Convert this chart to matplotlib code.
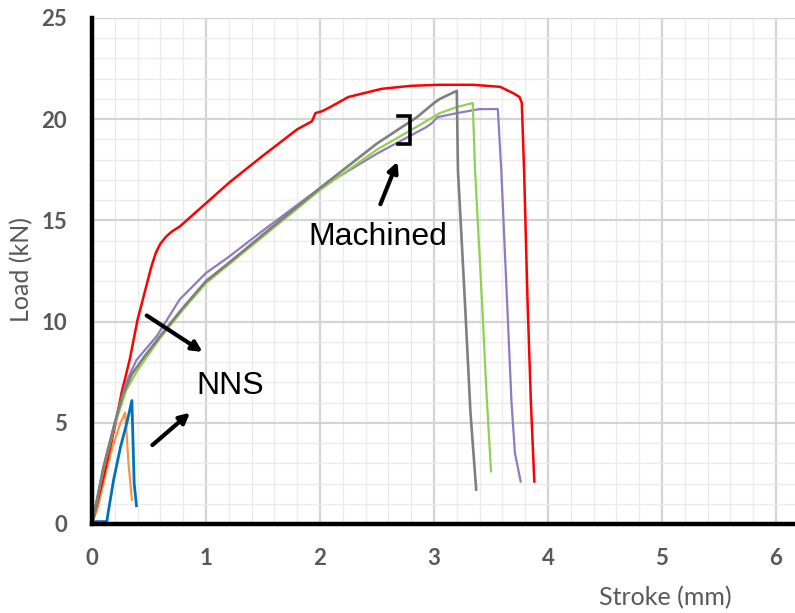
import matplotlib
matplotlib.use("Agg")
import matplotlib.pyplot as plt
from matplotlib.ticker import MultipleLocator

# ---- data (Stroke mm, Load kN) ----
red_x = [0, 0.1, 0.2, 0.26, 0.33, 0.40, 0.46, 0.52, 0.56, 0.60, 0.65, 0.7, 0.77, 1.01, 1.21, 1.50, 1.80,
         1.93, 1.96, 2.02, 2.09, 2.25, 2.54, 2.8, 3.05, 3.34, 3.58, 3.69, 3.75, 3.77, 3.79, 3.82, 3.85, 3.88]
red_y = [0, 2.3, 4.8, 6.5, 8.1, 10.1, 11.4, 12.7, 13.4, 13.85, 14.2, 14.45, 14.7, 15.9, 16.9, 18.2, 19.5,
         19.9, 20.3, 20.4, 20.6, 21.1, 21.5, 21.65, 21.7, 21.7, 21.6, 21.3, 21.1, 20.8, 17.5, 11.1, 6.0, 2.1]

gray_x = [0, 0.02, 0.1, 0.2, 0.27, 0.35, 0.45, 0.6, 0.8, 1.0, 1.2, 1.5, 2.0, 2.5, 2.85, 3.0, 3.05, 3.2,
          3.21, 3.27, 3.32, 3.37]
gray_y = [0, 0.5, 2.8, 5.0, 6.4, 7.4, 8.2, 9.3, 10.7, 12.0, 12.9, 14.3, 16.6, 18.8, 20.1, 20.8, 21.0, 21.4,
          17.5, 11.1, 5.5, 1.7]

green_x = [0, 0.1, 0.2, 0.3, 0.4, 0.6, 0.8, 1.0, 1.5, 2.0, 2.5, 2.84, 3.05, 3.2, 3.34, 3.36, 3.42, 3.46,
           3.50]
green_y = [0, 2.7, 4.9, 6.6, 7.6, 9.2, 10.6, 11.9, 14.2, 16.5, 18.5, 19.6, 20.3, 20.6, 20.8, 17.5, 11.1,
           6.5, 2.6]

purple_x = [0, 0.1, 0.2, 0.3, 0.39, 0.57, 0.77, 1.0, 1.2, 1.5, 2.0, 2.5, 2.93, 2.98, 3.03, 3.2, 3.40,
            3.56, 3.59, 3.64, 3.68, 3.71, 3.76]
purple_y = [0, 2.8, 5.0, 7.0, 8.1, 9.3, 11.1, 12.4, 13.2, 14.5, 16.6, 18.3, 19.6, 19.8, 20.1, 20.3, 20.5,
            20.5, 17.5, 11.1, 6.0, 3.5, 2.1]

blue_x = [0, 0.03, 0.13, 0.14, 0.19, 0.25, 0.31, 0.35, 0.36, 0.37, 0.39]
blue_y = [0, 0.12, 0.12, 0.5, 2.2, 3.8, 5.1, 6.1, 4.0, 2.0, 0.9]

orange_x = [0, 0.05, 0.1, 0.18, 0.25, 0.29, 0.30, 0.32, 0.35]
orange_y = [0, 0.8, 2.0, 3.8, 5.0, 5.5, 4.8, 3.0, 1.2]

bracket_x = [2.68, 2.79, 2.79, 2.68]
bracket_y = [20.15, 20.15, 18.75, 18.75]

x_ticks = [0, 1, 2, 3, 4, 5, 6]
y_ticks = [0, 5, 10, 15, 20, 25]

# ---- figure ----
fig = plt.figure(figsize=(7.95, 6.13), dpi=100)
ax = fig.add_axes([92/795, 1-524/613, 1-92/795, (524-18)/613])

tick_color = '#595959'
ax.set_xlim(0, 703/114)
ax.set_ylim(0, 25)
ax.set_xticks(x_ticks)
ax.set_yticks(y_ticks)
ax.xaxis.set_minor_locator(MultipleLocator(0.2))
ax.yaxis.set_minor_locator(MultipleLocator(1))
ax.grid(which='major', color='#d4d4d4', lw=1.6, zorder=0)
ax.grid(which='minor', color='#ececec', lw=1.0, zorder=0)
ax.set_axisbelow(True)
ax.tick_params(which='both', length=0)
ax.tick_params(axis='x', pad=17)
ax.tick_params(axis='y', pad=18)
for lab in ax.get_xticklabels() + ax.get_yticklabels():
    lab.set_fontfamily('Lato')
    lab.set_fontweight('bold')
    lab.set_fontsize(16)
    lab.set_color(tick_color)

for s in ['top', 'right']:
    ax.spines[s].set_visible(False)
for s in ['left', 'bottom']:
    ax.spines[s].set_linewidth(3.2)
    ax.spines[s].set_color('black')
    ax.spines[s].set_zorder(5)

lw = 1.6
ax.plot(orange_x, orange_y, color='#f79646', lw=lw, zorder=2)
ax.plot(blue_x, blue_y, color='#0070c0', lw=lw+0.4, zorder=2)
ax.plot(red_x, red_y, color='#ff0000', lw=lw+0.2, zorder=2)
ax.plot(purple_x, purple_y, color='#8f7bbd', lw=lw, zorder=3)
ax.plot(green_x, green_y, color='#92d050', lw=lw, zorder=3)
ax.plot(gray_x, gray_y, color='#7f7f7f', lw=lw+0.3, zorder=3)

ax.plot(bracket_x, bracket_y, color='black', lw=2.6, zorder=6, solid_joinstyle='miter')

arrow = dict(arrowstyle='-|>,head_length=0.6,head_width=0.3', color='black', lw=3, shrinkA=0, shrinkB=0)
ax.annotate('', xy=(2.68, 17.9), xytext=(2.53, 15.8), arrowprops=arrow, zorder=6)
ax.annotate('', xy=(0.97, 8.5), xytext=(0.48, 10.3), arrowprops=arrow, zorder=6)
ax.annotate('', xy=(0.86, 5.5), xytext=(0.53, 3.9), arrowprops=arrow, zorder=6)

ax.text(2.51, 14.2, 'Machined', fontsize=23, family='Liberation Sans', ha='center', va='center', zorder=6)
ax.text(1.21, 6.8, 'NNS', fontsize=23, family='Liberation Sans', ha='center', va='center', zorder=6)

fig.text(22/795, 1-270/613, 'Load (kN)', rotation=90, ha='center', va='center',
         fontsize=18, family='Lato', color=tick_color)
fig.text(665/795, 1-598/613, 'Stroke (mm)', ha='center', va='center',
         fontsize=18, family='Lato', color=tick_color)

fig.savefig('out.png', dpi=100)
